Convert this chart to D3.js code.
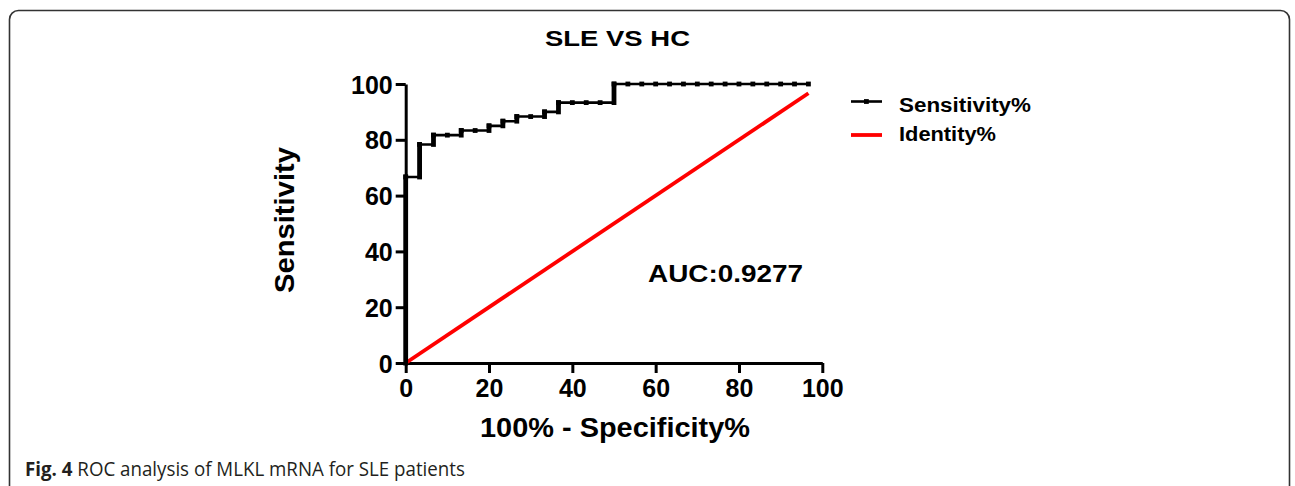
<!DOCTYPE html>
<html>
<head>
<meta charset="utf-8">
<script src="https://cdn.jsdelivr.net/npm/d3@7"></script>
<style>
  body { margin: 0; background: #fff; }
  svg text { font-family: "Liberation Sans", Arial, sans-serif; font-weight: bold; }
</style>
</head>
<body>
<div id="canvas"></div>
<script>
// ROC points (100% - specificity%, sensitivity%)
var fpr  = [0, 0, 3.33, 6.67, 10, 13.33, 16.67, 20, 23.33, 26.67, 30, 33.33, 36.67, 40, 43.33, 46.67, 50,
            53.33, 56.67, 60, 63.33, 66.67, 70, 73.33, 76.67, 80, 83.33, 86.67, 90, 93.33, 96.67];
var sens = [0, 66.67, 78.33, 81.67, 81.67, 83.33, 83.33, 85, 86.67, 88.33, 88.33, 90, 93.33, 93.33, 93.33, 93.33, 100,
            100, 100, 100, 100, 100, 100, 100, 100, 100, 100, 100, 100, 100, 100];
var identity = [[0, 0], [96.67, 96.67]];
var xTicks = [0, 20, 40, 60, 80, 100];
var yTicks = [0, 20, 40, 60, 80, 100];
var legendItems = ['Sensitivity%', 'Identity%'];
var title = 'SLE VS HC';
var aucLabel = 'AUC:0.9277';

var W = 1295, H = 486;
var svg = d3.select('#canvas').append('svg')
    .attr('width', W).attr('height', H);

// figure frame (open at the bottom)
svg.append('rect')
    .attr('x', 9.5).attr('y', 10.5)
    .attr('width', 1280).attr('height', 600)
    .attr('rx', 9)
    .style('fill', 'none').style('stroke', '#333').style('stroke-width', 1.6);

var x = d3.scaleLinear().domain([0, 100]).range([405.7, 822.3]);
var y = d3.scaleLinear().domain([0, 100]).range([363, 84]);

var plot = svg.append('g');

// axes
var yAxis = plot.append('g')
    .attr('transform', 'translate(' + x(0) + ',0)')
    .call(d3.axisLeft(y).tickValues(yTicks).tickSize(10).tickSizeOuter(0).tickPadding(3));
var xAxis = plot.append('g')
    .attr('transform', 'translate(0,' + y(0) + ')')
    .call(d3.axisBottom(x).tickValues(xTicks).tickSize(10).tickSizeOuter(0).tickPadding(4));

[xAxis, yAxis].forEach(function(a){
  a.select('.domain').style('stroke', '#000').style('stroke-width', 3);
  a.selectAll('.tick line').style('stroke', '#000').style('stroke-width', 3);
  a.selectAll('.tick text')
    .style('font-size', '25px').style('fill', '#000')
    .style('font-family', '"Liberation Sans", Arial, sans-serif').style('font-weight', 'bold');
});
yAxis.selectAll('.tick text').attr('dy', '0.36em');
xAxis.selectAll('.tick text').attr('dy', '0.78em');

// identity line
plot.append('line')
    .attr('x1', x(identity[0][0])).attr('y1', y(identity[0][1]))
    .attr('x2', x(identity[1][0])).attr('y2', y(identity[1][1]))
    .style('stroke', '#ff0000').style('stroke-width', 3.8);

// ROC step curve
var pts = fpr.map(function(d, i){ return [d, sens[i]]; });
var line = d3.line()
    .x(function(d){ return x(d[0]); })
    .y(function(d){ return y(d[1]); })
    .curve(d3.curveStepAfter);
plot.append('path')
    .datum(pts)
    .attr('d', line)
    .style('fill', 'none').style('stroke', '#000').style('stroke-width', 2.6);

// vertical jumps (stacked points look like thick bars)
var jumps = [];
for (var i = 1; i < pts.length; i++) {
  if (pts[i][1] !== pts[i-1][1]) jumps.push([pts[i][0], pts[i-1][1], pts[i][1]]);
}
plot.selectAll('.jump')
    .data(jumps).enter().append('line')
    .attr('class', 'jump')
    .attr('x1', function(d){ return x(d[0]); })
    .attr('x2', function(d){ return x(d[0]); })
    .attr('y1', function(d){ return y(d[1]) + 2.4; })
    .attr('y2', function(d){ return y(d[2]) - 2.4; })
    .style('stroke', '#000').style('stroke-width', 4.8);

plot.selectAll('.pt')
    .data(pts.slice(1)).enter().append('rect')
    .attr('class', 'pt')
    .attr('x', function(d){ return x(d[0]) - 2.4; })
    .attr('y', function(d){ return y(d[1]) - 2.4; })
    .attr('width', 4.8).attr('height', 4.8)
    .style('fill', '#000');

// text helper
function label(txt, px, py, size, len, anchor) {
  var t = svg.append('text')
      .attr('x', px).attr('y', py)
      .attr('text-anchor', anchor || 'middle')
      .style('font-size', size + 'px')
      .style('fill', '#000')
      .text(txt);
  if (len) t.attr('textLength', len).attr('lengthAdjust', 'spacingAndGlyphs');
  return t;
}

label(title, 617.5, 45.5, 21.5, 145);
label(aucLabel, 725.5, 282, 23, 155);
label('100% - Specificity%', 615, 437, 28, 270);
label('Sensitivity', 0, 0, 27.5, 146)
    .attr('transform', 'translate(294,220) rotate(-90)');

// legend
var legY = [101.5, 135];
var leg = svg.selectAll('.leg')
    .data(legendItems).enter().append('g')
    .attr('class', 'leg');
leg.append('line')
    .attr('x1', 851).attr('x2', 882)
    .attr('y1', function(d, i){ return legY[i]; })
    .attr('y2', function(d, i){ return legY[i]; })
    .style('stroke', function(d, i){ return i === 0 ? '#000' : '#ff0000'; })
    .style('stroke-width', function(d, i){ return i === 0 ? 2.6 : 3.8; });
leg.filter(function(d, i){ return i === 0; }).append('rect')
    .attr('x', 864).attr('y', legY[0] - 2.4)
    .attr('width', 4.8).attr('height', 4.8)
    .style('fill', '#000');
var legLens = [132, 97];
var legBase = [111.5, 141];
leg.append('text')
    .attr('x', 899)
    .attr('y', function(d, i){ return legBase[i]; })
    .attr('textLength', function(d, i){ return legLens[i]; })
    .attr('lengthAdjust', 'spacingAndGlyphs')
    .style('font-size', '20px')
    .text(function(d){ return d; });

// caption
var cap = svg.append('text')
    .attr('x', 25).attr('y', 476)
    .style('font-family', '"Open Sans", "Noto Sans", sans-serif')
    .style('font-size', '19.5px')
    .style('fill', '#231f20');
cap.append('tspan').style('font-weight', 'bold').text('Fig. 4');
cap.append('tspan').style('font-weight', 'normal').text(' ROC analysis of MLKL mRNA for SLE patients');
var cw = cap.node().getComputedTextLength();
cap.attr('transform', 'translate(25,0) scale(' + (440 / cw) + ',1) translate(-25,0)');
</script>
</body>
</html>
